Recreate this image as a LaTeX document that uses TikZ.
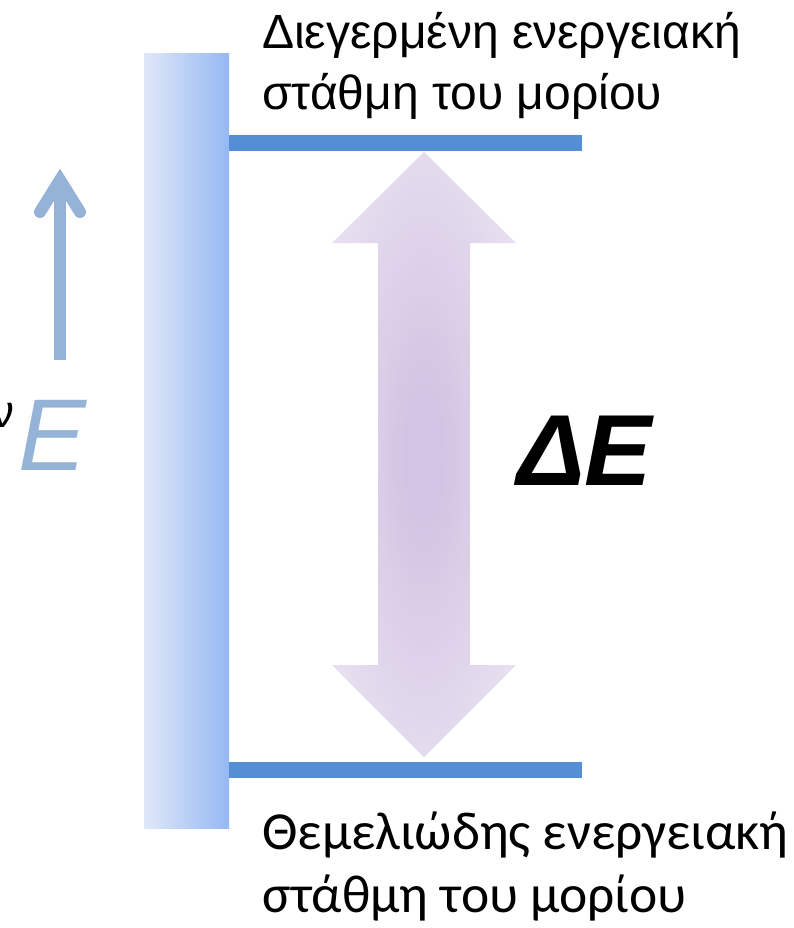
\documentclass[tikz,border=0pt]{standalone}
\usepackage{fontspec}
\setmainfont{Liberation Sans}
\newfontfamily\lowfont{Carlito}
\usetikzlibrary{arrows.meta, positioning, calc}
\definecolor{levelblue}{HTML}{558ED5}
\definecolor{axisblue}{HTML}{95B3D7}
\definecolor{barlight}{HTML}{DFE8F8}
\definecolor{bardark}{HTML}{95B8F3}
\definecolor{gapin}{HTML}{D3C4E3}
\definecolor{gapout}{HTML}{EFEAF5}
\pgfdeclareradialshading{gapshade}{\pgfpoint{0bp}{0bp}}{%
  color(0bp)=(gapin); color(5bp)=(gapin); color(38bp)=(gapout); color(72bp)=(gapout)}
\tikzset{
  bar/.style    ={minimum width=85pt, minimum height=774pt, inner sep=0pt,
                  left color=barlight, right color=bardark},
  level/.style  ={fill=levelblue, minimum width=353pt, minimum height=16pt,
                  inner sep=0pt, anchor=west},
  uplbl/.style  ={font=\fontsize{48}{61}\selectfont, align=left,
                  inner sep=0pt, anchor=north west},
  lowlbl/.style ={font=\lowfont\fontsize{53.5}{63}\selectfont, align=left,
                  inner sep=0pt, anchor=north west},
  axis/.style   ={line width=12pt, draw=axisblue},
}
\begin{document}
\begin{tikzpicture}[x=1pt, y=-1pt]
  \useasboundingbox (0,0) rectangle (794,928);
  \node[bar]   (bar)   at (186.5,441) {};
  \node[level] (upper) at (229,143) {};
  \node[level] (lower) at (229,770) {};

  % energy gap
  \coordinate (gaptop) at (424,152);
  \coordinate (gapbot) at (424,757);
  \shade[shading=gapshade]
    (gaptop) -- (516,243) -- (470,243) -- (470,665) -- (516,665) -- (gapbot)
    -- (332,665) -- (378,665) -- (378,243) -- (332,243) -- cycle;
  \node[font=\fontsize{101}{101}\selectfont\bfseries\itshape,
        anchor=base west, inner sep=0pt] (gap) at (517,485) {ΔE};

  % energy axis
  \coordinate (axbot) at (60,360);
  \coordinate (axtop) at (60,180);
  \draw[axis] (axbot) -- (axtop);
  \draw[axis, line cap=round, line join=miter]
    ($(axtop)+(-20,32)$) -- (axtop) -- ($(axtop)+(20,32)$);
  \node[font=\fontsize{102}{102}\selectfont\itshape, text=axisblue,
        anchor=base west, inner sep=0pt] (en) at (18,470) {E};
  \node[font=\fontsize{46}{46}\selectfont, anchor=base east,
        inner sep=0pt] (nu) at (15,427) {ν};

  \node[uplbl]  (uptxt)  at (262,12)  {Διεγερμένη ενεργειακή\\στάθμη του μορίου};
  \node[lowlbl] (lowtxt) at (262,812) {Θεμελιώδης ενεργειακή\\στάθμη του μορίου};
\end{tikzpicture}
\end{document}
